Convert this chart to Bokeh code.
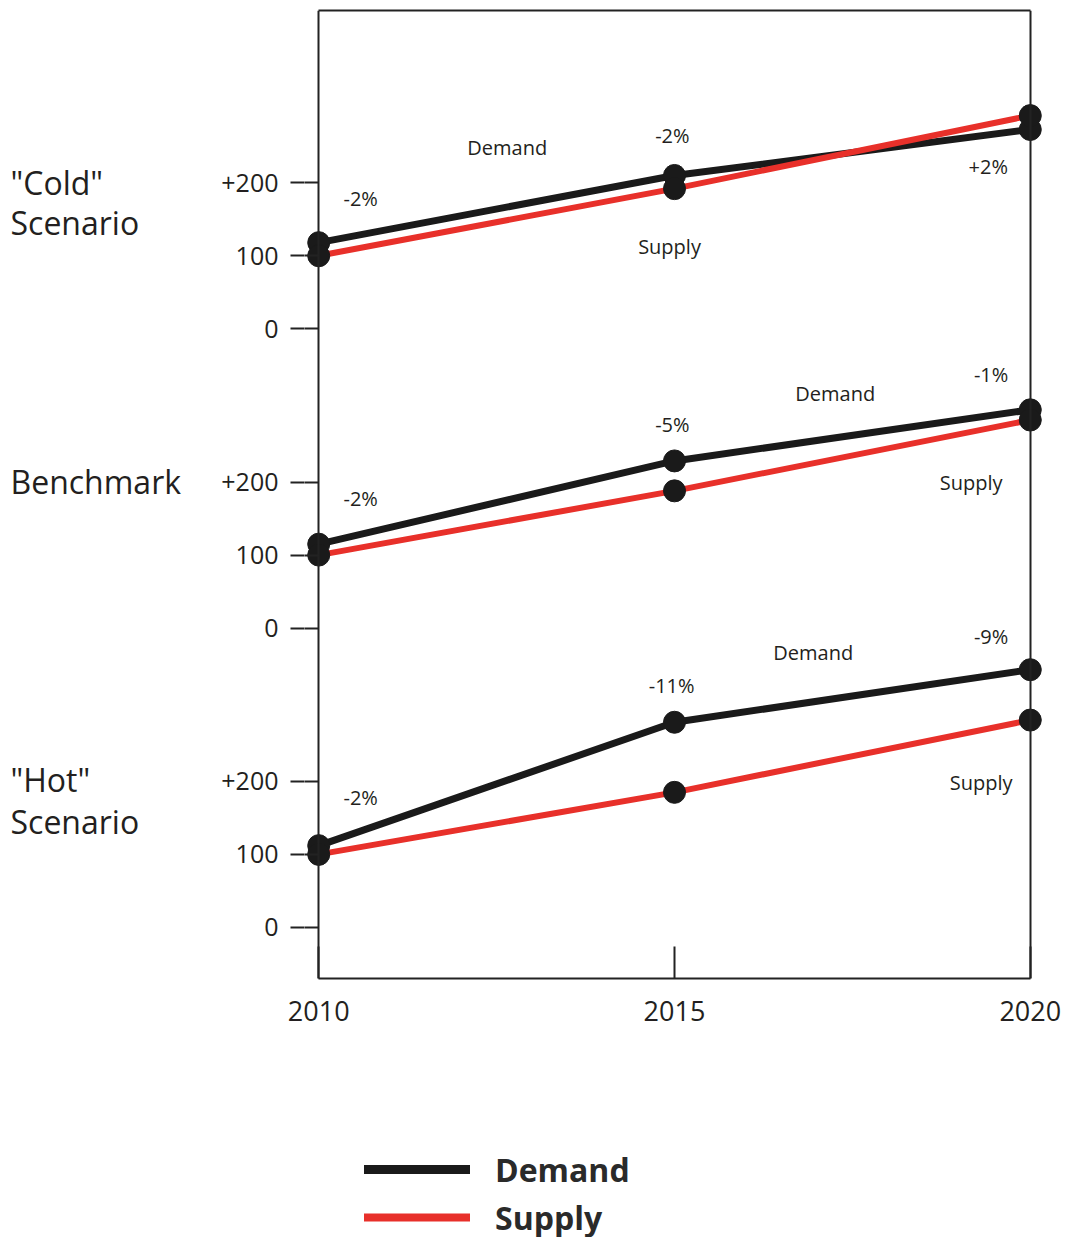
from bokeh.plotting import figure
from bokeh.models import (Range1d, FixedTicker, ColumnDataSource, LabelSet,
                          Legend, LegendItem, LinearAxis)
from bokeh.layouts import column, row
from bokeh.core.properties import value
from bokeh.embed import file_html
from bokeh.resources import INLINE

# ---------------- data ----------------
years = [2010, 2015, 2020]
offsets = [820, 410, 0]          # vertical stacking offset of each panel

cold_demand = [118, 210, 273]
cold_supply = [100, 192, 292]
bench_demand = [115, 229, 299]
bench_supply = [100, 188, 285]
hot_demand = [112, 281, 353]
hot_supply = [100, 185, 284]

tick_values = [0, 100, 200]
tick_labels = ["0", "100", "+200"]
year_labels = ["2010", "2015", "2020"]

# scenario names, one entry per text line, with their panel and height
scen_lines = ['"Cold"', "Scenario", "Benchmark", '"Hot"', "Scenario"]
scen_panel = [0, 0, 1, 2, 2]
scen_y = [200, 146, 201, 202, 145]

# annotation texts (y relative to the panel's zero)
cold_notes_text = ["-2%", "Demand", "-2%", "Supply", "+2%"]
cold_notes_x = [2010.59, 2012.65, 2014.97, 2014.93, 2019.41]
cold_notes_y = [179, 248, 265, 113, 222]
bench_notes_text = ["-2%", "-5%", "Demand", "-1%", "Supply"]
bench_notes_x = [2010.59, 2014.97, 2017.26, 2019.45, 2019.17]
bench_notes_y = [178, 279, 321, 347, 199]
hot_notes_text = ["-2%", "-11%", "Demand", "-9%", "Supply"]
hot_notes_x = [2010.59, 2014.96, 2016.95, 2019.45, 2019.31]
hot_notes_y = [178, 331, 377, 398, 199]

DEMAND_COLOR = "#1a1a1a"
SUPPLY_COLOR = "#e8302a"
TEXT_COLOR = "#231f20"
AXIS_COLOR = "#222222"
FONT = "Open Sans"

Y0, Y1 = -70, 1256
yr = Range1d(Y0, Y1)

# ---------------- scenario-name strip (left) ----------------
lf = figure(width=200, height=1040, output_backend="svg", toolbar_location=None,
            x_range=Range1d(0, 1), y_range=yr,
            min_border_left=0, min_border_right=0, min_border_top=10,
            min_border_bottom=62)
lf.axis.visible = False
lf.xgrid.visible = False
lf.ygrid.visible = False
lf.outline_line_color = None
lf.text(x=[0] * len(scen_lines),
        y=[ly + offsets[pi] for pi, ly in zip(scen_panel, scen_y)],
        text=scen_lines, x_offset=10, text_align="left", text_baseline="middle",
        text_font=value(FONT), text_font_size="32px", text_color=TEXT_COLOR)

# ---------------- main figure ----------------
# x range slightly wider than the data so the end markers are not cut off;
# the chart box is drawn by axes fixed at 2010 / 2020.
p = figure(width=862, height=1040, output_backend="svg", toolbar_location=None,
           x_range=Range1d(2009.8, 2020.2), y_range=yr,
           min_border_left=104, min_border_right=18, min_border_top=10,
           min_border_bottom=62)
p.xgrid.visible = False
p.ygrid.visible = False
p.outline_line_color = None
p.background_fill_color = "white"
p.border_fill_color = "white"

all_ticks = []
overrides = {}
for off in offsets:
    for t, lab in zip(tick_values, tick_labels):
        all_ticks.append(off + t)
        overrides[off + t] = lab

# y axis labels + outer part of the ticks (side panel, no line)
p.yaxis.ticker = FixedTicker(ticks=all_ticks)
p.yaxis.major_label_overrides = overrides
p.yaxis.minor_tick_line_color = None
p.yaxis.major_tick_out = 14
p.yaxis.major_tick_in = 0
p.yaxis.major_tick_line_width = 2
p.yaxis.major_tick_line_color = AXIS_COLOR
p.yaxis.axis_line_color = None
p.yaxis.major_label_standoff = 12
p.yaxis.major_label_text_font = FONT
p.yaxis.major_label_text_font_size = "25px"
p.yaxis.major_label_text_color = TEXT_COLOR

# y axis line at 2010 with the inner part of the ticks
left_line = LinearAxis(fixed_location=years[0], ticker=FixedTicker(ticks=all_ticks),
                       major_label_overrides={t: "" for t in all_ticks},
                       axis_line_width=2, axis_line_color=AXIS_COLOR,
                       major_tick_out=0, major_tick_in=14, major_tick_line_width=2,
                       major_tick_line_color=AXIS_COLOR,
                       minor_tick_line_color=None, major_label_standoff=0)
p.add_layout(left_line, "right")

# x axis
p.xaxis.bounds = (years[0], years[-1])
p.xaxis.ticker = FixedTicker(ticks=years)
p.xaxis.major_label_overrides = {y: l for y, l in zip(years, year_labels)}
p.xaxis.minor_tick_line_color = None
p.xaxis.major_tick_out = 0
p.xaxis.major_tick_in = 32
p.xaxis.major_tick_line_width = 2
p.xaxis.major_tick_line_color = AXIS_COLOR
p.xaxis.axis_line_width = 2
p.xaxis.axis_line_color = AXIS_COLOR
p.xaxis.major_label_standoff = 22
p.xaxis.major_label_text_font = FONT
p.xaxis.major_label_text_font_size = "27px"
p.xaxis.major_label_text_color = TEXT_COLOR

# right and top edges of the box
right_ax = LinearAxis(fixed_location=years[-1], ticker=FixedTicker(ticks=[]),
                      axis_line_width=2, axis_line_color=AXIS_COLOR,
                      major_tick_out=0, major_tick_in=0, minor_tick_out=0,
                      minor_tick_in=0, major_label_standoff=0)
p.add_layout(right_ax, "right")
top_ax = LinearAxis(bounds=(years[0], years[-1]), ticker=FixedTicker(ticks=[]),
                    axis_line_width=2, axis_line_color=AXIS_COLOR,
                    major_tick_out=0, major_tick_in=0, minor_tick_out=0,
                    minor_tick_in=0, major_label_standoff=0)
p.add_layout(top_ax, "above")

series = [
    (cold_demand, cold_supply, offsets[0]),
    (bench_demand, bench_supply, offsets[1]),
    (hot_demand, hot_supply, offsets[2]),
]
for dem, sup, off in series:
    dsrc = ColumnDataSource(dict(x=years, y=[v + off for v in dem]))
    ssrc = ColumnDataSource(dict(x=years, y=[v + off for v in sup]))
    p.line("x", "y", source=dsrc, line_color=DEMAND_COLOR, line_width=7)
    p.line("x", "y", source=ssrc, line_color=SUPPLY_COLOR, line_width=6)
    p.scatter("x", "y", source=dsrc, size=22, fill_color=DEMAND_COLOR,
              line_color=DEMAND_COLOR)
    p.scatter("x", "y", source=ssrc, size=22, fill_color=DEMAND_COLOR,
              line_color=DEMAND_COLOR)

notes = [
    (cold_notes_text, cold_notes_x, cold_notes_y, offsets[0]),
    (bench_notes_text, bench_notes_x, bench_notes_y, offsets[1]),
    (hot_notes_text, hot_notes_x, hot_notes_y, offsets[2]),
]
for txt, xs, ys, off in notes:
    src = ColumnDataSource(dict(x=xs, y=[v + off for v in ys], t=txt))
    p.add_layout(LabelSet(x="x", y="y", text="t", source=src,
                          text_align="center", text_baseline="middle",
                          text_font=value(FONT), text_font_size="20px",
                          text_color=TEXT_COLOR))

# ---------------- legend strip ----------------
lg = figure(width=862, height=197, output_backend="svg", toolbar_location=None,
            x_range=Range1d(0, 1), y_range=Range1d(0, 1),
            min_border_left=104, min_border_right=18, min_border_top=0,
            min_border_bottom=0)
lg.axis.visible = False
lg.xgrid.visible = False
lg.ygrid.visible = False
lg.outline_line_color = None
r_d = lg.line([5, 6], [5, 6], line_color=DEMAND_COLOR, line_width=9,
              line_cap="round")
r_s = lg.line([5, 6], [5, 6], line_color=SUPPLY_COLOR, line_width=8,
              line_cap="round")
legend = Legend(items=[LegendItem(label="Demand", renderers=[r_d]),
                       LegendItem(label="Supply", renderers=[r_s])],
                location=(60, -4), orientation="vertical",
                glyph_width=106, glyph_height=48, label_height=48,
                label_standoff=25, spacing=0, padding=0, margin=0,
                border_line_alpha=0, background_fill_alpha=0,
                label_text_font=FONT, label_text_font_size="32px",
                label_text_font_style="bold", label_text_color="#2a2a2a")
lg.add_layout(legend, "center")

layout = row(lf, column(p, lg, spacing=0), spacing=0)
open("out.html", "w").write(file_html(layout, INLINE))
